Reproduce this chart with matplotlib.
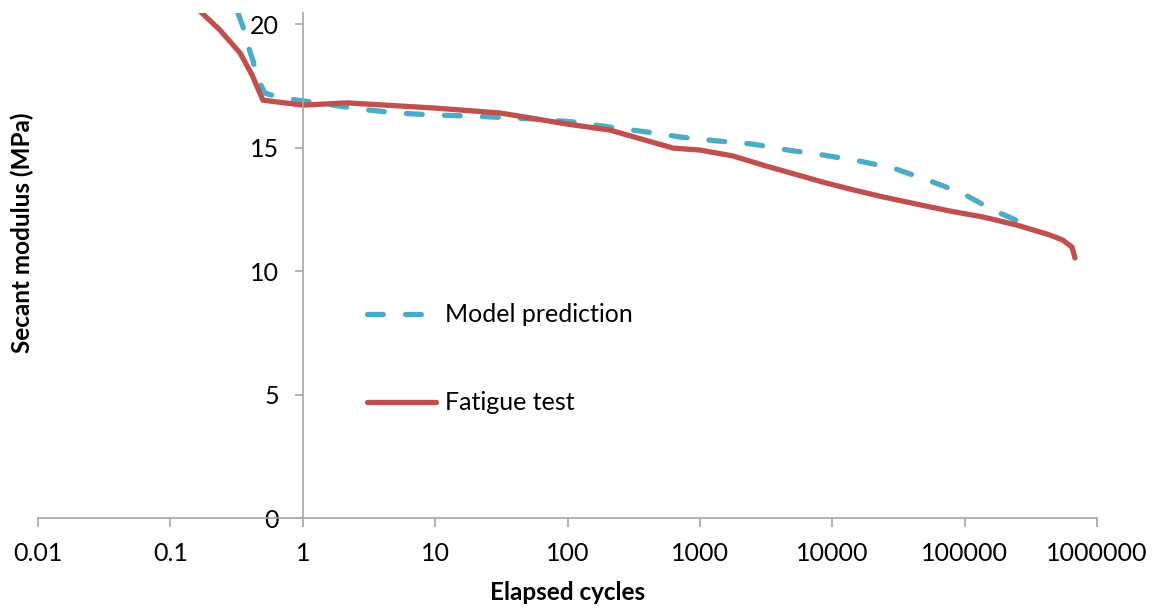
import matplotlib
matplotlib.use('Agg')
import matplotlib.pyplot as plt
from matplotlib.ticker import FixedLocator, NullLocator, FixedFormatter

plt.rcParams['font.family'] = ['Lato', 'DejaVu Sans']

# model prediction (dashed)
model_cycles = [0.324, 0.354, 0.38, 0.42, 0.45, 0.52, 0.67, 0.905, 1.35, 2.71, 5.15, 9.64,
                17.4, 32.6, 58.9, 110, 209, 399, 733, 1346, 2520, 4630, 8520, 16200,
                28800, 52900, 95500, 163700, 276000, 323000]
model_modulus = [20.45, 19.88, 19.23, 18.54, 17.85, 17.2, 17.04, 16.92, 16.8, 16.56, 16.4, 16.32,
                 16.28, 16.22, 16.15, 16.04, 15.83, 15.63, 15.42, 15.27, 15.14, 14.9, 14.7, 14.45,
                 14.17, 13.68, 13.16, 12.47, 11.94, 11.78]

# fatigue test (solid)
test_cycles = [0.153, 0.173, 0.237, 0.336, 0.414, 0.5, 1, 2.16, 10, 31, 100, 209, 627, 1000,
               1780, 3000, 8520, 13600, 24200, 43600, 77500, 137700, 248700, 441000, 553000,
               647000, 682000]
test_modulus = [20.73, 20.45, 19.76, 18.83, 17.94, 16.92, 16.72, 16.81, 16.6, 16.4, 15.95, 15.71,
                14.98, 14.9, 14.66, 14.29, 13.6, 13.32, 13.0, 12.71, 12.43, 12.19, 11.86, 11.46,
                11.25, 10.97, 10.53]

x_ticks = [0.01, 0.1, 1, 10, 100, 1000, 10000, 100000, 1000000]
x_labels = ['0.01', '0.1', '1', '10', '100', '1000', '10000', '100000', '1000000']
y_ticks = [0, 5, 10, 15, 20]

blue = '#4BACC6'
red = '#C0504D'
grey = '#A6A6A6'

fig = plt.figure(figsize=(11.56, 6.1), dpi=100)
ax = fig.add_axes([38/1156, 92/610, 1059/1156, 505/610])

ax.plot(model_cycles, model_modulus, color=blue, lw=3.8, dashes=(3.0, 4.2),
        dash_capstyle='round', solid_joinstyle='round', label='Model prediction')
ax.plot(test_cycles, test_modulus, color=red, lw=3.8, solid_capstyle='round',
        solid_joinstyle='round', label='Fatigue test')

ax.set_xscale('log')
ax.set_xlim(0.01, 1000000)
ax.set_ylim(0, 20.45)
ax.xaxis.set_major_locator(FixedLocator(x_ticks))
ax.xaxis.set_major_formatter(FixedFormatter(x_labels))
ax.xaxis.set_minor_locator(NullLocator())
ax.set_yticks(y_ticks)

ax.spines['top'].set_visible(False)
ax.spines['right'].set_visible(False)
ax.spines['left'].set_position(('data', 1))
for s in ('left', 'bottom'):
    ax.spines[s].set_color(grey)
    ax.spines[s].set_linewidth(1.2)

ax.tick_params(axis='x', direction='out', length=6.5, width=1.2, color=grey,
               labelsize=18, pad=11)
ax.tick_params(axis='y', direction='out', length=6, width=1.2, color=grey,
               labelsize=18, pad=11)

ax.set_xlabel('Elapsed cycles', fontsize=17.5, fontweight='bold')
ax.set_ylabel('Secant modulus (MPa)', fontsize=17.5, fontweight='bold')
ax.xaxis.set_label_coords(0.5, -0.125)
ax.yaxis.set_label_coords(-0.004, 0.564)

ax.legend(loc='upper left', bbox_to_anchor=(0.3107, 0.425), frameon=False,
          fontsize=18, handlelength=2.75, handletextpad=0.35, labelspacing=2.6,
          borderpad=0, borderaxespad=0)

fig.savefig('out.png', dpi=100)
